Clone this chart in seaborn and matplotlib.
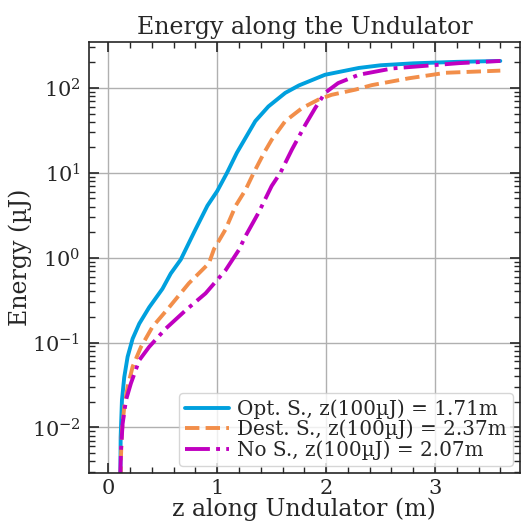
import numpy as np
import pandas as pd
import seaborn as sns
import matplotlib.pyplot as plt
from matplotlib.ticker import MultipleLocator

sns.set_style('ticks')
plt.rcParams['font.family'] = ['DejaVu Serif']
plt.rcParams['mathtext.fontset'] = 'dejavuserif'
plt.rcParams['xtick.direction'] = 'in'
plt.rcParams['ytick.direction'] = 'in'
plt.rcParams['xtick.top'] = True
plt.rcParams['ytick.right'] = True

# energy curves (z in m, energy in uJ)
z_opt = [0.0, 0.11, 0.113, 0.113, 0.125, 0.146, 0.177, 0.223, 0.284, 0.375, 0.497, 0.573, 0.665,
         0.80, 0.91, 1.0, 1.09, 1.18, 1.26, 1.35, 1.47, 1.625, 1.75, 1.99, 2.3, 2.5, 2.8, 3.2, 3.6]
e_opt = [1e-5, 0.002, 0.0054, 0.01, 0.021, 0.039, 0.068, 0.111, 0.167, 0.26, 0.43, 0.65, 0.95,
         2.15, 4.1, 6.1, 10, 17.2, 25.8, 40.7, 60.5, 87.5, 107, 143, 172, 185, 195, 203, 208]

z_dest = [0.0, 0.113, 0.116, 0.125, 0.146, 0.177, 0.223, 0.30, 0.405, 0.558, 0.74, 0.924, 0.97,
          1.076, 1.17, 1.26, 1.335, 1.43, 1.50, 1.625, 1.78, 1.93, 2.05, 2.27, 2.42, 2.76, 3.1, 3.6]
e_dest = [1e-5, 0.002, 0.0045, 0.0092, 0.0174, 0.030, 0.052, 0.089, 0.153, 0.26, 0.50, 0.86, 1.26,
          2.15, 4.1, 6.3, 10, 17.2, 24.5, 40.7, 58, 73, 83, 95.6, 108, 130, 151, 160]

z_no = [0.0, 0.108, 0.11, 0.116, 0.131, 0.162, 0.207, 0.284, 0.375, 0.527, 0.71, 0.893, 1.076,
        1.198, 1.26, 1.38, 1.50, 1.58, 1.686, 1.81, 1.90, 1.99, 2.11, 2.3, 2.61, 3.22, 3.6]
e_no = [1e-5, 0.002, 0.0028, 0.0054, 0.011, 0.021, 0.033, 0.062, 0.089, 0.146, 0.24, 0.38, 0.71,
        1.23, 1.8, 3.4, 7.0, 10, 18.8, 37, 58, 87.5, 114, 143, 170, 196, 208]

labels = ['Opt. S., z(100µJ) = 1.71m', 'Dest. S., z(100µJ) = 2.37m', 'No S., z(100µJ) = 2.07m']

fig = plt.figure(figsize=(5.22, 5.21), dpi=100)
ax = fig.add_axes([0.17, 0.092, 0.826, 0.827])

sns.lineplot(x=z_opt, y=e_opt, color='#00A0DE', lw=2.8, ls='-', label=labels[0], sort=False, ax=ax)
sns.lineplot(x=z_dest, y=e_dest, color='#F28E4A', lw=2.8, ls='--', label=labels[1], sort=False, ax=ax)
sns.lineplot(x=z_no, y=e_no, color='#C000C0', lw=2.8, ls='-.', label=labels[2], sort=False, ax=ax)

ax.set_yscale('log')
ax.set_xlim(-0.18, 3.78)
ax.set_ylim(0.0029, 346)
ax.xaxis.set_minor_locator(MultipleLocator(0.2))
ax.grid(True, which='major', color='#b0b0b0', lw=1)
ax.tick_params(which='major', length=7, width=1.2, labelsize=15, pad=6)
ax.tick_params(axis='x', which='major', pad=4)
ax.tick_params(which='minor', length=4, width=1)
for s in ax.spines.values():
    s.set_linewidth(1.2)

ax.set_title('Energy along the Undulator', fontsize=17)
ax.set_xlabel('z along Undulator (m)', fontsize=17, labelpad=0)
ax.set_ylabel('Energy (µJ)', fontsize=17, labelpad=0)
ax.legend(loc='lower right', fontsize=14.4, handlelength=2.2, handletextpad=0.4,
          borderaxespad=0.35, labelspacing=0.05, borderpad=0.3)

fig.savefig('out.png', dpi=100)
